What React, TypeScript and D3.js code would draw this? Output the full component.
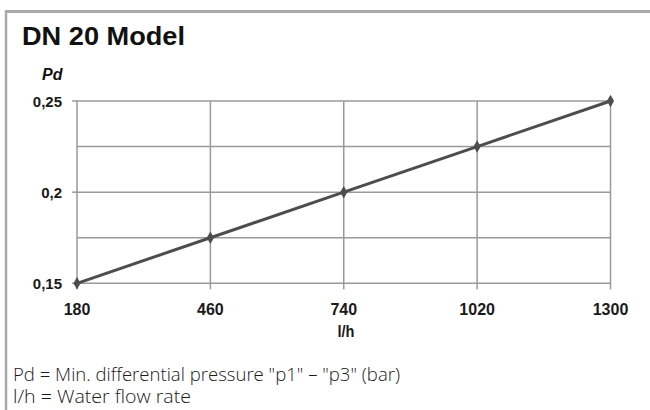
import React from "react";
import * as d3 from "d3";

const flowRates = [180, 460, 740, 1020, 1300];
const pressures = [0.15, 0.175, 0.2, 0.225, 0.25];
const xTickValues = [180, 460, 740, 1020, 1300];
const yMajorTicks = [0.15, 0.2, 0.25];
const yGridValues = [0.15, 0.175, 0.2, 0.225, 0.25];
const yTickLabels = ["0,15", "0,2", "0,25"];
const titleText = "DN 20 Model";
const yAxisTitle = "Pd";
const xAxisTitle = "l/h";
const footerLines = [
  "Pd = Min. differential pressure \"p1\" \u2013 \"p3\" (bar)",
  "l/h = Water flow rate",
];

export default function App() {
  const W = 650;
  const H = 410;
  const x = d3.scaleLinear().domain([180, 1300]).range([77, 610.5]);
  const y = d3.scaleLinear().domain([0.15, 0.25]).range([283.3, 101]);
  const data = flowRates.map((f, i) => ({ f, p: pressures[i] }));
  const line = d3
    .line<{ f: number; p: number }>()
    .x((d) => x(d.f))
    .y((d) => y(d.p));
  const diamond = d3.symbol().type(d3.symbolDiamond).size(45)();
  const grid = "#9a9a9a";
  const sans = "'Liberation Sans', Arial, sans-serif";
  const light = "'Open Sans', 'Liberation Sans', Arial, sans-serif";

  return (
    <svg
      width={W}
      height={H}
      style={{ position: "absolute", left: 0, top: 0, background: "#fff" }}
    >
      <rect x={0} y={0} width={W} height={H} fill="#fff" />
      {/* frame */}
      <line x1={5} x2={W} y1={11.5} y2={11.5} stroke="#a9a9a9" strokeWidth={3} />
      <line x1={6} x2={6} y1={10} y2={H} stroke="#a9a9a9" strokeWidth={2.5} />

      <text
        x={22}
        y={45}
        fontFamily={sans}
        fontWeight="bold"
        fontSize={26}
        fill="#111"
        textLength={163}
        lengthAdjust="spacingAndGlyphs"
      >
        {titleText}
      </text>
      <text
        x={42}
        y={80}
        fontFamily={sans}
        fontWeight="bold"
        fontStyle="italic"
        fontSize={16}
        fill="#111"
      >
        {yAxisTitle}
      </text>

      {/* horizontal gridlines */}
      {yGridValues.map((v) => (
        <line
          key={"h" + v}
          x1={x(180)}
          x2={x(1300)}
          y1={y(v)}
          y2={y(v)}
          stroke={grid}
          strokeWidth={1.5}
        />
      ))}
      {/* vertical gridlines with ticks below */}
      {xTickValues.map((v) => (
        <line
          key={"v" + v}
          x1={x(v)}
          x2={x(v)}
          y1={y(0.25)}
          y2={y(0.15) + 6}
          stroke={grid}
          strokeWidth={1.5}
        />
      ))}
      {/* y ticks */}
      {yMajorTicks.map((v) => (
        <line
          key={"yt" + v}
          x1={x(180) - 5}
          x2={x(180)}
          y1={y(v)}
          y2={y(v)}
          stroke={grid}
          strokeWidth={1.5}
        />
      ))}
      {yMajorTicks.map((v, i) => (
        <text
          key={"yl" + v}
          x={62}
          y={y(v) + 5.5}
          textAnchor="end"
          fontFamily={sans}
          fontWeight="bold"
          fontSize={15}
          fill="#1a1a1a"
        >
          {yTickLabels[i]}
        </text>
      ))}
      {xTickValues.map((v) => (
        <text
          key={"xl" + v}
          x={x(v)}
          y={315}
          textAnchor="middle"
          fontFamily={sans}
          fontWeight="bold"
          fontSize={16}
          fill="#1a1a1a"
        >
          {v}
        </text>
      ))}
      <text
        x={346}
        y={337}
        textAnchor="middle"
        fontFamily={sans}
        fontWeight="bold"
        fontSize={16}
        fill="#1a1a1a"
        textLength={17}
        lengthAdjust="spacingAndGlyphs"
      >
        {xAxisTitle}
      </text>

      {/* data line */}
      <path d={line(data) || ""} fill="none" stroke="#4d4d4d" strokeWidth={3} />
      {data.map((d) => (
        <path
          key={"m" + d.f}
          d={diamond || ""}
          transform={`translate(${x(d.f)},${y(d.p)})`}
          fill="#4d4d4d"
        />
      ))}

      {/* footer */}
      <text
        x={13}
        y={381}
        fontFamily={light}
        fontWeight={300}
        fontSize={18}
        fill="#1a1a1a"
        textLength={387}
        lengthAdjust="spacingAndGlyphs"
      >
        {footerLines[0]}
      </text>
      <text
        x={13}
        y={403}
        fontFamily={light}
        fontWeight={300}
        fontSize={18}
        fill="#1a1a1a"
        textLength={178}
        lengthAdjust="spacingAndGlyphs"
      >
        {footerLines[1]}
      </text>
    </svg>
  );
}
